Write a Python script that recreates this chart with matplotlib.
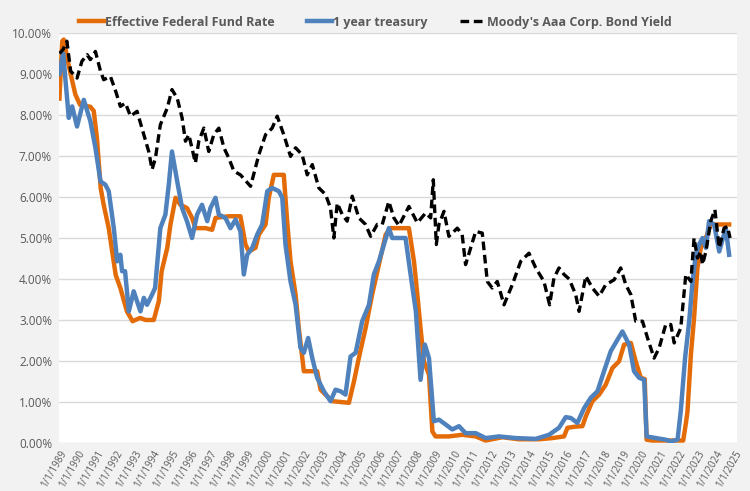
import matplotlib

matplotlib.use("Agg")
import matplotlib.pyplot as plt
from matplotlib.ticker import FuncFormatter

# ---- data (decimal years, percent) ----
ffr_t = [1989.0, 1989.15, 1989.23, 1989.5, 1989.85, 1990.1, 1990.65, 1990.83, 1991.0, 1991.2,
         1991.36, 1991.63, 1992.0, 1992.25, 1992.6, 1992.9, 1993.3, 1993.6, 1994.03, 1994.3,
         1994.45, 1994.75, 1994.92, 1995.19, 1995.45, 1995.8, 1996.07, 1996.25, 1996.8, 1997.14,
         1997.32, 1998.03, 1998.65, 1998.92, 1999.1, 1999.45, 1999.63, 1999.99, 2000.16, 2000.43,
         2000.96, 2001.14, 2001.32, 2001.59, 2001.76, 2002.03, 2002.74, 2002.92, 2003.19, 2003.54,
         2004.43, 2004.7, 2004.96, 2005.32, 2005.67, 2006.03, 2006.39, 2006.65, 2007.63, 2007.9,
         2008.08, 2008.25, 2008.43, 2008.7, 2008.88, 2009.05, 2009.76, 2010.47, 2011.19, 2011.72,
         2012.61, 2013.5, 2014.56, 2015.28, 2015.9, 2016.08, 2016.52, 2016.88, 2017.06, 2017.41,
         2017.77, 2018.12, 2018.48, 2018.83, 2019.1, 2019.46, 2019.72, 2019.99, 2020.2, 2020.3,
         2020.61, 2021.32, 2022.25, 2022.4, 2022.48, 2022.66, 2022.83, 2023.01, 2023.19, 2023.46,
         2023.72, 2024.7]
ffr_v = [8.4, 9.8, 9.84, 9.2, 8.5, 8.25, 8.2, 8.1, 7.44, 6.22,
         5.81, 5.24, 4.1, 3.78, 3.21, 2.97, 3.05, 3.0, 3.0, 3.46,
         4.19, 4.76, 5.33, 5.98, 5.81, 5.73, 5.49, 5.24, 5.24, 5.2,
         5.49, 5.53, 5.53, 4.84, 4.67, 4.76, 5.08, 5.33, 5.98, 6.54,
         6.54, 5.41, 4.43, 3.62, 2.8, 1.75, 1.75, 1.3, 1.18, 1.02,
         0.98, 1.5, 2.07, 2.8, 3.62, 4.35, 5.08, 5.24, 5.24, 4.43,
         3.62, 2.8, 1.99, 1.67, 0.28, 0.16, 0.16, 0.2, 0.16, 0.06,
         0.14, 0.09, 0.09, 0.12, 0.16, 0.37, 0.40, 0.41, 0.65, 1.02,
         1.18, 1.42, 1.83, 1.99, 2.4, 2.44, 1.99, 1.59, 1.56, 0.08,
         0.06, 0.06, 0.06, 0.5, 0.77, 2.15, 3.05, 4.27, 4.76, 5.0,
         5.33, 5.33]

ust_t = [1989.0, 1989.2, 1989.5, 1989.68, 1989.94, 1990.3, 1990.65, 1990.92, 1991.19, 1991.45,
         1991.63, 1991.9, 1992.08, 1992.25, 1992.34, 1992.5, 1992.7, 1992.96, 1993.32, 1993.5,
         1993.67, 1993.94, 1994.1, 1994.38, 1994.65, 1994.83, 1995.0, 1995.28, 1995.54, 1995.8,
         1996.07, 1996.34, 1996.6, 1996.88, 1997.05, 1997.32, 1997.5, 1997.85, 1998.12, 1998.39,
         1998.65, 1998.83, 1999.01, 1999.28, 1999.54, 1999.81, 2000.08, 2000.34, 2000.7, 2000.88,
         2001.05, 2001.32, 2001.59, 2001.85, 2002.03, 2002.26, 2002.48, 2002.74, 2003.1, 2003.45,
         2003.72, 2003.99, 2004.25, 2004.52, 2004.79, 2005.14, 2005.5, 2005.76, 2006.03, 2006.3,
         2006.56, 2006.74, 2007.45, 2007.72, 2008.0, 2008.25, 2008.48, 2008.7, 2008.96, 2009.23,
         2009.59, 2009.94, 2010.3, 2010.65, 2011.19, 2011.72, 2012.43, 2013.32, 2014.39, 2015.1,
         2015.63, 2015.99, 2016.26, 2016.61, 2016.97, 2017.32, 2017.68, 2018.03, 2018.39, 2018.75,
         2019.01, 2019.37, 2019.63, 2019.9, 2020.17, 2020.3, 2020.79, 2021.32, 2021.59, 2021.95,
         2022.12, 2022.35, 2022.57, 2022.75, 2022.92, 2023.1, 2023.28, 2023.46, 2023.63, 2023.9,
         2024.17, 2024.52, 2024.7]
ust_v = [9.0, 9.5, 7.93, 8.21, 7.72, 8.37, 7.85, 7.2, 6.38, 6.3,
         6.14, 5.24, 4.43, 4.59, 4.19, 4.19, 3.21, 3.7, 3.21, 3.54,
         3.37, 3.62, 3.78, 5.24, 5.57, 6.3, 7.11, 6.38, 5.73, 5.41,
         5.0, 5.57, 5.81, 5.41, 5.73, 5.98, 5.57, 5.49, 5.24, 5.45,
         5.16, 4.11, 4.59, 4.76, 5.08, 5.33, 6.14, 6.22, 6.14, 5.98,
         4.84, 3.94, 3.37, 2.32, 2.2, 2.56, 2.07, 1.59, 1.26, 1.02,
         1.3, 1.26, 1.18, 2.11, 2.2, 2.97, 3.37, 4.11, 4.43, 4.84,
         5.24, 5.0, 5.0, 4.11, 3.21, 1.54, 2.4, 2.07, 0.53, 0.57,
         0.45, 0.33, 0.41, 0.24, 0.24, 0.12, 0.16, 0.12, 0.1, 0.2,
         0.37, 0.63, 0.61, 0.49, 0.85, 1.1, 1.26, 1.75, 2.24, 2.52,
         2.72, 2.4, 1.75, 1.59, 1.54, 0.16, 0.12, 0.08, 0.04, 0.08,
         0.77, 2.07, 2.97, 3.94, 4.59, 4.84, 5.0, 4.76, 5.41, 5.33,
         4.67, 5.24, 4.59]

aaa_t = [1989.0, 1989.2, 1989.4, 1989.6, 1989.94, 1990.2, 1990.48, 1990.65, 1990.92, 1991.19,
         1991.36, 1991.72, 1992.0, 1992.25, 1992.52, 1992.79, 1993.14, 1993.5, 1993.76, 1993.94,
         1994.12, 1994.38, 1994.75, 1995.0, 1995.28, 1995.54, 1995.72, 1995.9, 1996.25, 1996.43,
         1996.7, 1996.96, 1997.23, 1997.5, 1997.77, 1998.03, 1998.3, 1998.65, 1999.19, 1999.63,
         1999.99, 2000.34, 2000.61, 2000.96, 2001.32, 2001.59, 2001.94, 2002.21, 2002.48, 2002.83,
         2003.19, 2003.45, 2003.63, 2003.81, 2004.08, 2004.34, 2004.61, 2004.96, 2005.32, 2005.59,
         2005.94, 2006.21, 2006.56, 2006.83, 2007.1, 2007.63, 2008.08, 2008.52, 2008.79, 2008.93,
         2009.09, 2009.23, 2009.5, 2009.76, 2010.21, 2010.47, 2010.65, 2011.19, 2011.54, 2011.81,
         2012.07, 2012.34, 2012.7, 2013.14, 2013.59, 2014.03, 2014.39, 2014.83, 2015.13, 2015.36,
         2015.63, 2015.9, 2016.17, 2016.52, 2016.7, 2017.06, 2017.41, 2017.77, 2018.12, 2018.57,
         2018.92, 2019.19, 2019.46, 2019.72, 2020.08, 2020.35, 2020.52, 2020.7, 2020.97, 2021.32,
         2021.59, 2021.77, 2022.12, 2022.39, 2022.66, 2022.83, 2023.01, 2023.19, 2023.28, 2023.46,
         2023.72, 2023.94, 2024.17, 2024.43, 2024.61, 2024.75]
aaa_v = [9.5, 9.6, 9.8, 9.07, 8.9, 9.31, 9.47, 9.35, 9.55, 9.07,
         8.86, 8.94, 8.58, 8.21, 8.29, 7.97, 8.09, 7.52, 7.11, 6.67,
         6.95, 7.76, 8.17, 8.62, 8.41, 7.93, 7.36, 7.52, 6.83, 7.36,
         7.68, 7.11, 7.52, 7.68, 7.2, 6.95, 6.63, 6.54, 6.26, 7.03,
         7.52, 7.68, 7.97, 7.52, 6.99, 7.2, 7.03, 6.54, 6.79, 6.22,
         6.06, 5.73, 5.0, 5.85, 5.57, 5.41, 6.02, 5.49, 5.33, 5.04,
         5.33, 5.33, 5.89, 5.49, 5.3, 5.77, 5.37, 5.61, 5.49, 6.42,
         4.84, 5.33, 5.65, 5.04, 5.24, 5.08, 4.35, 5.16, 5.12, 3.94,
         3.78, 3.94, 3.37, 3.86, 4.43, 4.63, 4.27, 3.94, 3.37, 4.02,
         4.27, 4.11, 4.0, 3.62, 3.21, 4.07, 3.78, 3.58, 3.86, 3.98,
         4.27, 3.86, 3.62, 2.97, 2.97, 2.56, 2.32, 2.07, 2.32, 2.89,
         2.89, 2.44, 2.8, 4.11, 3.94, 5.0, 4.51, 4.67, 4.35, 4.67,
         5.41, 5.69, 4.76, 5.24, 5.28, 5.0]

tick_years = list(range(1989, 2026))

GRAY_TXT = "#595959"
plt.rcParams["font.family"] = ["Open Sans", "DejaVu Sans"]

fig = plt.figure(figsize=(7.5, 4.91), dpi=100, facecolor="#F2F2F2")
ax = fig.add_axes([0.0787, 0.0978, 0.904, 0.835])
ax.set_facecolor("white")

ax.plot(ffr_t, ffr_v, color="#E36C09", lw=3.2, label="Effective Federal Fund Rate", zorder=3)
ax.plot(ust_t, ust_v, color="#4F81BD", lw=3.2, label="1 year treasury", zorder=4)
ax.plot(aaa_t, aaa_v, color="black", lw=2.4, ls=(0, (2.6, 1.4)),
        label="Moody's Aaa Corp. Bond Yield", zorder=5)

ax.set_xlim(1988.98, 2025.12)
ax.set_ylim(0, 10)
ax.set_yticks(range(0, 11))
ax.yaxis.set_major_formatter(FuncFormatter(lambda v, _: f"{v:.2f}%"))
ax.set_xticks(tick_years)
ax.set_xticklabels([f"1/1/{y}" for y in tick_years], rotation=60, ha="right",
                   rotation_mode="anchor", fontsize=7)
ax.tick_params(axis="y", length=0, labelsize=8.5, labelcolor=GRAY_TXT, pad=5)
ax.tick_params(axis="x", length=0, labelcolor=GRAY_TXT, pad=4)
ax.grid(axis="y", color="#D9D9D9", lw=1.0)
for s in ax.spines.values():
    s.set_visible(False)

leg = fig.legend(loc="center", bbox_to_anchor=(0.5, 0.955), ncol=3, frameon=False,
                 handlelength=2.0, handletextpad=0.1, columnspacing=2.6,
                 prop=dict(size=9, weight="bold"))
for t in leg.get_texts():
    t.set_color(GRAY_TXT)

fig.savefig("out.png", dpi=100, facecolor=fig.get_facecolor())
